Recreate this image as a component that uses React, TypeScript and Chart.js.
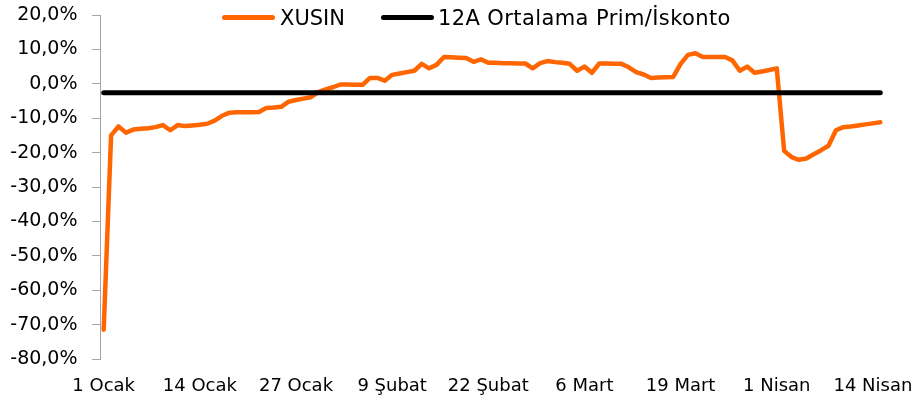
import React, { useEffect, useRef } from "react";
import { Chart, registerables } from "chart.js";

Chart.register(...registerables);

// ---- Data ----
const MONTHS = ["Ocak", "Şubat", "Mart", "Nisan"];
const MONTH_DAYS = [31, 29, 31, 30];
const DAY_COUNT = 106; // 1 Ocak .. 15 Nisan
const TICK_EVERY = 13;
const TICK_LABELS = ["1 Ocak", "14 Ocak", "27 Ocak", "9 Şubat", "22 Şubat", "6 Mart", "19 Mart", "1 Nisan", "14 Nisan"];

const XUSIN = [
  -71.5, -15.0, -12.4, -14.2, -13.3, -13.1, -12.9, -12.6, -12.0, -13.5,
  -12.0, -12.3, -12.1, -11.9, -11.6, -10.7, -9.3, -8.4, -8.3, -8.3,
  -8.3, -8.2, -7.0, -6.9, -6.7, -5.2, -4.7, -4.3, -3.9, -2.4,
  -1.6, -1.0, -0.2, -0.2, -0.3, -0.3, 1.7, 1.7, 0.9, 2.6,
  3.0, 3.4, 3.8, 5.8, 4.5, 5.5, 7.8, 7.7, 7.6, 7.5,
  6.4, 7.1, 6.1, 6.1, 6.0, 6.0, 5.9, 5.9, 4.5, 6.0,
  6.6, 6.3, 6.1, 5.8, 3.8, 5.0, 3.2, 5.9, 5.9, 5.8,
  5.8, 4.8, 3.4, 2.7, 1.7, 1.8, 1.9, 2.0, 5.8, 8.4,
  8.9, 7.8, 7.8, 7.8, 7.8, 6.8, 3.8, 5.0, 3.2, 3.6,
  4.0, 4.5, -19.5, -21.3, -22.1, -21.7, -20.5, -19.3, -18.0, -13.5,
  -12.6, -12.4, -12.1, -11.8, -11.5, -11.2,
];

const AVG_12M = -2.6; // 12A Ortalama Prim/İskonto

const SERIES_NAMES = ["XUSIN", "12A Ortalama Prim/İskonto"];
const SERIES_COLORS = ["#FF6600", "#000000"];

const Y_MIN = -80;
const Y_MAX = 20;
const Y_STEP = 10;

function buildCategories(): string[] {
  const out: string[] = [];
  for (let m = 0; m < MONTHS.length && out.length < DAY_COUNT; m++) {
    for (let d = 1; d <= MONTH_DAYS[m] && out.length < DAY_COUNT; d++) {
      out.push(d + " " + MONTHS[m]);
    }
  }
  return out;
}
const CATEGORIES = buildCategories();

const FONT = '"DejaVu Sans", Verdana, sans-serif';

function fmtPct(v: number): string {
  return v.toFixed(1).replace(".", ",") + "%";
}

export default function App() {
  const canvasRef = useRef<HTMLCanvasElement | null>(null);

  useEffect(() => {
    const canvas = canvasRef.current;
    if (!canvas) return;
    const chart = new Chart(canvas, {
      type: "line",
      data: {
        labels: CATEGORIES,
        datasets: [
          {
            label: SERIES_NAMES[0],
            data: XUSIN,
            borderColor: SERIES_COLORS[0],
            backgroundColor: SERIES_COLORS[0],
            borderWidth: 4.5,
            pointRadius: 0,
            tension: 0,
            borderJoinStyle: "round",
            borderCapStyle: "round",
            order: 1,
          },
          {
            label: SERIES_NAMES[1],
            data: CATEGORIES.map(() => AVG_12M),
            borderColor: SERIES_COLORS[1],
            backgroundColor: SERIES_COLORS[1],
            borderWidth: 5,
            pointRadius: 0,
            tension: 0,
            borderCapStyle: "round",
            order: 0,
          },
        ],
      },
      options: {
        responsive: false,
        animation: false,
        layout: { padding: { top: 15, right: 32, bottom: 0, left: 0 } },
        plugins: {
          legend: { display: false },
          tooltip: { enabled: false },
        },
        scales: {
          x: {
            type: "category",
            offset: true,
            grid: { display: false, drawTicks: false },
            border: { display: false },
            ticks: {
              autoSkip: false,
              maxRotation: 0,
              minRotation: 0,
              padding: 17,
              color: "#000",
              font: { family: FONT, size: 18 },
              callback: (_v: any, i: number) => {
                if (i % TICK_EVERY !== 0) return "";
                const k = i / TICK_EVERY;
                return TICK_LABELS[k] ?? "";
              },
            },
            afterFit: (s: any) => {
              s.height = 42;
            },
          },
          y: {
            min: Y_MIN,
            max: Y_MAX,
            ticks: {
              stepSize: Y_STEP,
              padding: 14.5,
              color: "#000",
              font: { family: FONT, size: 19 },
              callback: (v: any) => fmtPct(Number(v)),
            },
            grid: {
              display: true,
              drawOnChartArea: false,
              drawTicks: true,
              tickLength: 8,
              color: "#a6a6a6",
              lineWidth: 1,
            },
            border: { display: true, color: "#a6a6a6", width: 1 },
            afterFit: (s: any) => {
              s.width = 100;
              s.paddingTop = 0;
              s.paddingBottom = 0;
            },
          },
        },
      },
    } as any);
    return () => chart.destroy();
  }, []);

  const legendText: React.CSSProperties = {
    position: "absolute",
    top: 6,
    fontFamily: FONT,
    fontSize: 21,
    lineHeight: "24px",
    color: "#000",
    whiteSpace: "nowrap",
  };
  const legendLine = (left: number, color: string): React.CSSProperties => ({
    position: "absolute",
    left,
    top: 15,
    width: 53,
    height: 4.6,
    borderRadius: 3,
    background: color,
  });

  return (
    <div
      style={{
        position: "fixed",
        left: 0,
        top: 0,
        width: 916,
        height: 401,
        background: "#fff",
        overflow: "hidden",
      }}
    >
      <canvas ref={canvasRef} width={916} height={401} style={{ display: "block" }} />
      <div style={legendLine(222, SERIES_COLORS[0])} />
      <div style={{ ...legendText, left: 280 }}>{SERIES_NAMES[0]}</div>
      <div style={legendLine(381, SERIES_COLORS[1])} />
      <div style={{ ...legendText, left: 438, letterSpacing: "0.4px" }}>{SERIES_NAMES[1]}</div>
    </div>
  );
}
